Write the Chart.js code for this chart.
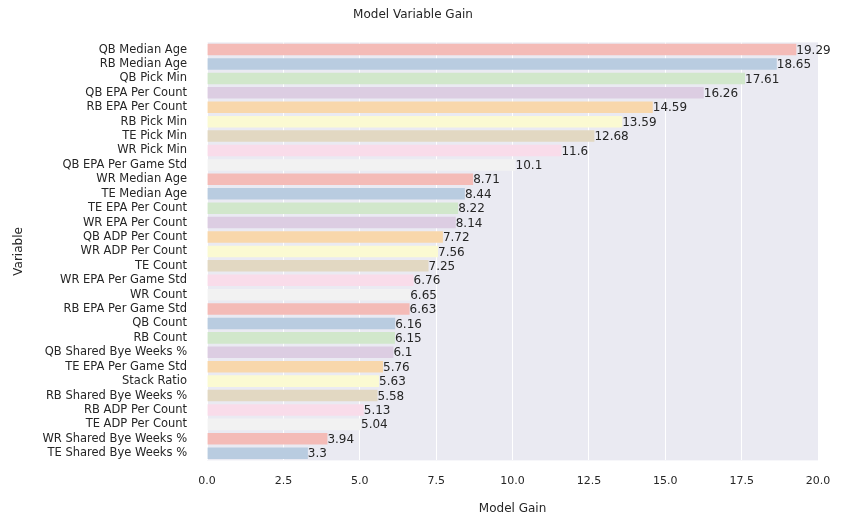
<!DOCTYPE html>
<html>
<head>
<meta charset="utf-8">
<script src="https://cdn.jsdelivr.net/npm/chart.js@4/dist/chart.umd.min.js"></script>
<style>
  body { margin: 0; background: #fff; }
  #wrap { width: 845px; height: 522px; }
</style>
</head>
<body>
<div id="wrap"><canvas id="chartGain"></canvas></div>
<script>
const variables = [
    'QB Median Age', 'RB Median Age', 'QB Pick Min', 'QB EPA Per Count', 'RB EPA Per Count',
    'RB Pick Min', 'TE Pick Min', 'WR Pick Min', 'QB EPA Per Game Std', 'WR Median Age',
    'TE Median Age', 'TE EPA Per Count', 'WR EPA Per Count', 'QB ADP Per Count', 'WR ADP Per Count',
    'TE Count', 'WR EPA Per Game Std', 'WR Count', 'RB EPA Per Game Std', 'QB Count',
    'RB Count', 'QB Shared Bye Weeks %', 'TE EPA Per Game Std', 'Stack Ratio', 'RB Shared Bye Weeks %',
    'RB ADP Per Count', 'TE ADP Per Count', 'WR Shared Bye Weeks %', 'TE Shared Bye Weeks %'
];
const gains = [
    19.29, 18.65, 17.61, 16.26, 14.59, 13.59, 12.68, 11.6, 10.1, 8.71,
    8.44, 8.22, 8.14, 7.72, 7.56, 7.25, 6.76, 6.65, 6.63, 6.16,
    6.15, 6.1, 5.76, 5.63, 5.58, 5.13, 5.04, 3.94, 3.3
];
const xTicks = [0, 2.5, 5, 7.5, 10, 12.5, 15, 17.5, 20];

// Paleta pastel (desaturada al estilo seaborn)
const paleta = ['#f4bbb7', '#b9cce0', '#d1e7cb', '#dccde2', '#f8d7ab', '#fbfad2', '#e2d8c2', '#f9dcea', '#f2f2f2'];
const colores = gains.map((g, i) => paleta[i % paleta.length]);

const etiquetas = {
    id: 'etiquetas',
    afterDatasetsDraw(chart) {
        const ctx = chart.ctx;
        const meta = chart.getDatasetMeta(0);
        ctx.save();
        ctx.font = '12px "DejaVu Sans"';
        ctx.fillStyle = '#262626';
        ctx.textBaseline = 'middle';
        meta.data.forEach((bar, i) => {
            ctx.fillText(String(gains[i]), bar.x, bar.y + 1);
        });
        ctx.restore();
    }
};

const fondo = {
    id: 'fondo',
    beforeDraw(chart) {
        const { ctx, chartArea: a } = chart;
        ctx.save();
        ctx.fillStyle = '#eaeaf2';
        ctx.fillRect(a.left, a.top, a.right - a.left, a.bottom - a.top);
        ctx.restore();
    }
};

new Chart(document.getElementById('chartGain').getContext('2d'), {
    type: 'bar',
    data: {
        labels: variables,
        datasets: [{
            data: gains,
            backgroundColor: colores,
            borderWidth: 0,
            barPercentage: 0.8,
            categoryPercentage: 1.0
        }]
    },
    options: {
        indexAxis: 'y',
        responsive: true,
        maintainAspectRatio: false,
        animation: false,
        layout: { padding: { left: 8, right: 27, top: 4, bottom: 6 } },
        plugins: {
            legend: { display: false },
            tooltip: { enabled: false },
            title: {
                display: true,
                text: 'Model Variable Gain',
                color: '#262626',
                font: { size: 12, family: 'DejaVu Sans', weight: 'normal' },
                padding: { top: 4, bottom: 20 }
            }
        },
        scales: {
            x: {
                min: 0,
                max: 20,
                afterBuildTicks(axis) { axis.ticks = xTicks.map(v => ({ value: v })); },
                grid: { color: '#ffffff', lineWidth: 1, drawTicks: false },
                border: { display: false },
                ticks: {
                    color: '#262626',
                    padding: 14,
                    font: { size: 11, family: 'DejaVu Sans' },
                    callback: v => Number(v).toFixed(1)
                },
                title: {
                    display: true,
                    text: 'Model Gain',
                    color: '#262626',
                    font: { size: 12, family: 'DejaVu Sans' },
                    padding: { top: 0, bottom: 0 }
                }
            },
            y: {
                grid: { display: false },
                border: { display: false },
                ticks: {
                    color: '#262626',
                    padding: 12,
                    autoSkip: false,
                    font: { size: 11.5, family: 'DejaVu Sans' }
                },
                title: {
                    display: true,
                    text: 'Variable',
                    color: '#262626',
                    font: { size: 12, family: 'DejaVu Sans' }
                }
            }
        }
    },
    plugins: [fondo, etiquetas]
});
</script>
</body>
</html>
